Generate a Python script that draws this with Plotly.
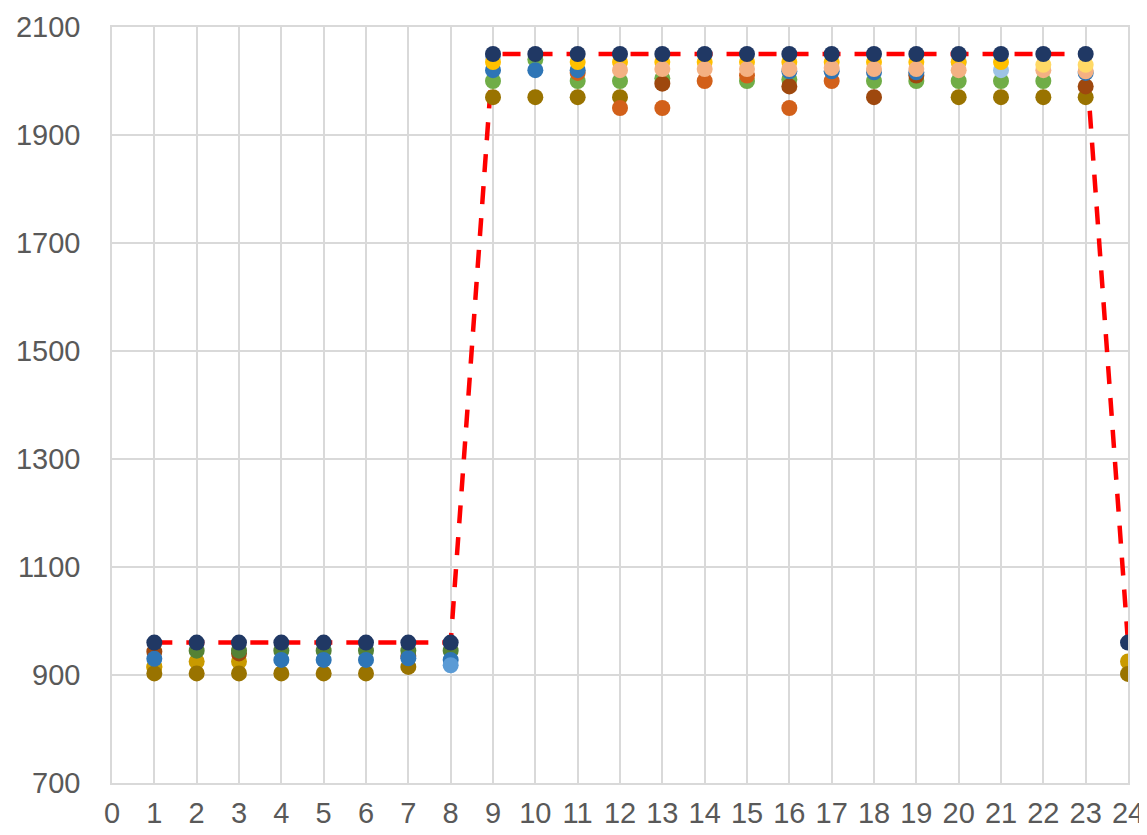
import plotly.graph_objects as go

hours = list(range(1, 25))
target = [960]*8 + [2050]*15 + [960]

N = None
dark_gold = [915, 925, 925, N, N, N, N, N, N, N, N, N, N, N, N, N, N, N, N, N, N, N, N, 925]
bright_gold_low = [915, N, N, N, N, N, N, N, N, N, N, N, N, N, N, N, N, N, N, N, N, N, N, N]
olive = [903, 903, 903, 903, 903, 903, 915, N, 1970, 1970, 1970, 1970, N, N, N, N, N, N, N, 1970, 1970, 1970, 1970, 902]
green = [N, N, N, N, N, N, N, N, 2000, 2040, 2000, 2000, 2005, N, 2000, 2003, N, 2000, 2000, 2000, 2000, 2000, N, N]
orange = [N, N, N, N, N, N, N, N, N, N, 2015, 1950, 1950, 2000, 2010, 1950, 2000, N, N, N, N, N, N, N]
brown = [943, N, 940, N, N, N, 935, N, N, N, N, N, 1995, N, N, 1990, N, 1970, 2010, N, N, N, 1990, N]
dark_green = [N, 945, 945, 945, 945, 945, 945, 945, N, N, N, N, N, N, N, N, N, N, N, N, N, N, N, N]
blue = [930, N, N, 928, 928, 928, 931, 928, 2020, 2020, 2020, N, N, N, N, 2018, 2018, 2016, 2016, N, N, N, 2015, N]
mid_blue = [N, N, N, N, N, N, N, 918, N, N, N, N, N, N, N, N, N, N, N, N, N, N, N, N]
light_blue = [N, N, N, N, N, N, N, N, 2045, N, N, N, N, N, N, N, N, N, N, 2035, 2020, N, N, N]
gold = [N, N, N, N, N, N, N, N, 2035, N, 2035, 2035, 2035, 2035, 2035, 2035, 2035, 2035, 2035, 2035, 2035, N, N, N]
salmon = [N, N, N, N, N, N, N, N, N, N, N, 2020, 2022, 2022, 2022, 2022, 2024, 2022, 2022, 2020, N, 2020, 2018, N]
yellow = [N, N, N, N, N, N, N, N, N, N, N, N, N, N, N, N, N, N, N, N, N, 2030, 2030, N]
navy = [960]*8 + [2050]*15 + [960]

series = [
    (bright_gold_low, "#FFC000"),
    (dark_gold, "#C99A00"),
    (olive, "#997300"),
    (green, "#70AD47"),
    (orange, "#D2601A"),
    (brown, "#9E480E"),
    (dark_green, "#548235"),
    (blue, "#2E75B6"),
    (mid_blue, "#5B9BD5"),
    (light_blue, "#9DC3E6"),
    (gold, "#FFC000"),
    (salmon, "#F4B183"),
    (yellow, "#FFD966"),
    (navy, "#203864"),
]

y_ticks = [700, 900, 1100, 1300, 1500, 1700, 1900, 2100]
x_ticks = list(range(0, 25))

fig = go.Figure()
fig.add_trace(go.Scatter(
    x=hours, y=target, mode="lines",
    line=dict(color="#FF0000", width=4.5, dash="18px,14px"),
    showlegend=False, hoverinfo="skip"))

for vals, col in series:
    fig.add_trace(go.Scatter(
        x=hours, y=vals, mode="markers",
        marker=dict(color=col, size=16, line=dict(width=0)),
        showlegend=False))

grid = "#D9D9D9"
# page body has an 8px default margin, so the figure is sized to fit the window
fig.update_layout(
    width=1139, height=827,
    margin=dict(l=104, r=19, t=19, b=52, autoexpand=False),
    plot_bgcolor="white", paper_bgcolor="white",
    font=dict(family="Liberation Sans, Arial, sans-serif", size=29, color="#595959"),
    showlegend=False,
)
fig.update_xaxes(
    range=[0, 24], tickvals=x_ticks, ticktext=[str(v) for v in x_ticks],
    showgrid=True, gridcolor=grid, gridwidth=1.5,
    showline=True, linecolor=grid, linewidth=1.5, mirror=True,
    zeroline=False, ticks="", ticklabelstandoff=3, automargin=False,
)
fig.update_yaxes(
    range=[700, 2100], tickvals=y_ticks, ticktext=[str(v) for v in y_ticks],
    showgrid=True, gridcolor=grid, gridwidth=1.5,
    showline=True, linecolor=grid, linewidth=1.5, mirror=True,
    zeroline=False, ticks="", ticklabelstandoff=24, automargin=False,
)

fig.write_html("out.html")
